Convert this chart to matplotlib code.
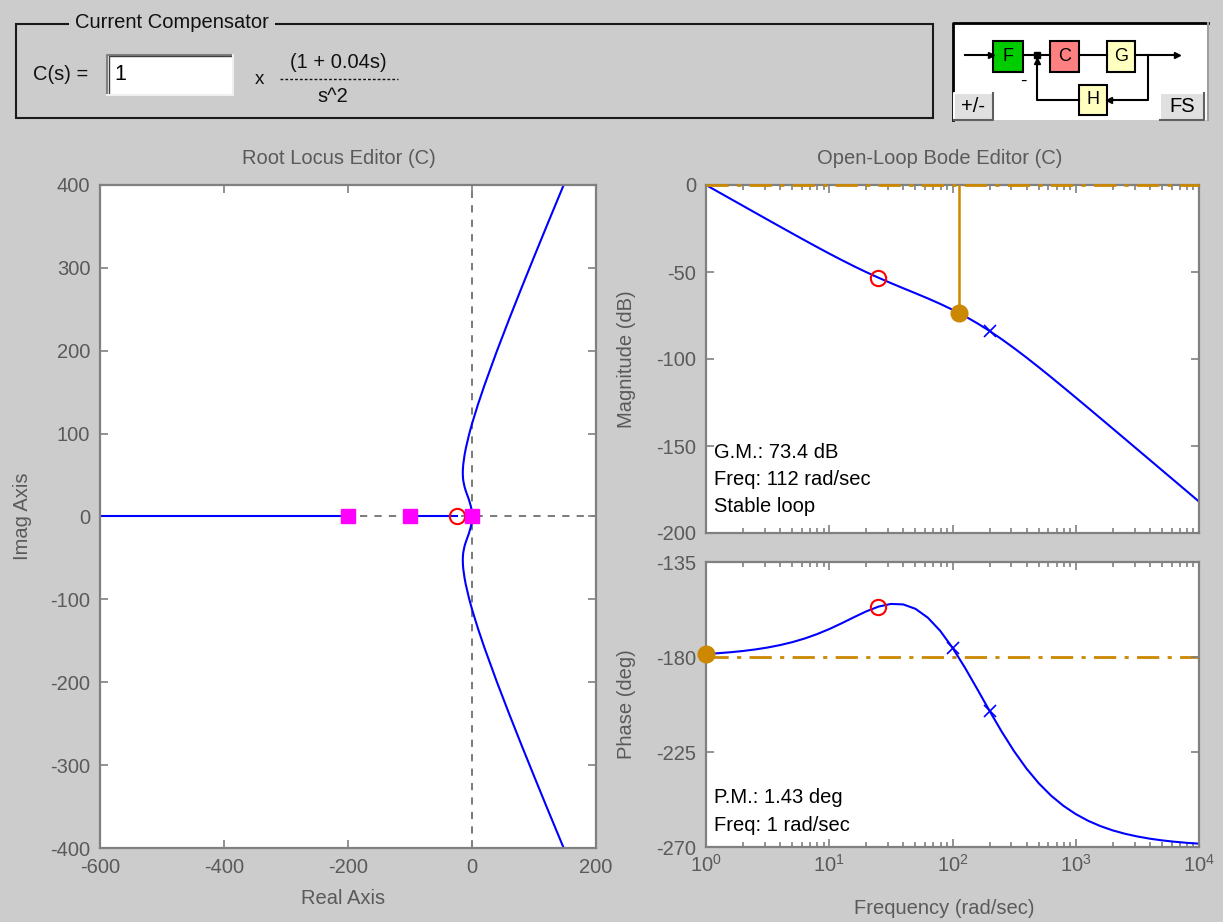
import matplotlib
matplotlib.use('Agg')
import matplotlib.pyplot as plt
from matplotlib.patches import Rectangle
from matplotlib.ticker import LogLocator, NullFormatter

plt.rcParams['font.family'] = ['Liberation Sans', 'DejaVu Sans']
plt.rcParams['mathtext.fontset'] = 'custom'
plt.rcParams['mathtext.rm'] = 'Liberation Sans'
plt.rcParams['mathtext.it'] = 'Liberation Sans'
plt.rcParams['mathtext.default'] = 'regular'
plt.rcParams['axes.unicode_minus'] = False

# ---------------- data ----------------
# Root locus (upper complex branch, mirrored for the lower one)
rl_branch_x = [0, -0.2, -1, -2, -5, -10, -12, -14, -14.5, -14.8, -14.83, -14.8, -14.5, -14,
               -12, -10, -5, -2, 0, 5, 10, 20, 40, 60, 80, 100, 120, 140, 150]
rl_branch_y = [0, 4.0, 8.97, 12.72, 20.4, 30.84, 35.70, 43.0, 46.34, 50.42, 52.5, 54.73, 59.35, 63.6,
               74.25, 82.15, 98.1, 106.5, 111.8, 124.06, 136.05, 158.18, 199.35, 238.32, 276.1,
               313.1, 349.7, 385.85, 403.8]
rl_real_seg_start = [-600, -100]
rl_real_seg_end = [-200, -25]
cl_poles_re = [-200, -100, 0]
comp_zero_re = [-25]

# Open-loop Bode
freq = [1, 1.259, 1.585, 1.995, 2.512, 3.162, 3.981, 5.012, 6.310, 7.943,
        10, 12.59, 15.85, 19.95, 25.12, 31.62, 39.81, 50.12, 63.10, 79.43,
        100, 125.9, 158.5, 199.5, 251.2, 316.2, 398.1, 501.2, 631.0, 794.3,
        1000, 1259, 1585, 1995, 2512, 3162, 3981, 5012, 6310, 7943, 10000]
mag_db = [0.01, -3.99, -7.98, -11.97, -15.96, -19.94, -23.90, -27.84, -31.75, -35.62,
          -39.41, -43.10, -46.67, -50.07, -53.30, -56.37, -59.32, -62.23, -65.19, -68.31,
          -71.68, -75.36, -79.42, -83.86, -88.67, -93.79, -99.16, -104.74, -110.45, -116.27,
          -122.15, -128.07, -134.02, -139.99, -145.97, -151.96, -157.95, -163.95, -169.94, -175.94,
          -181.94]
phase_deg = [-178.57, -178.20, -177.73, -177.15, -176.42, -175.51, -174.37, -172.97, -171.25, -169.19,
             -166.77, -164.05, -161.17, -158.39, -156.12, -154.86, -155.09, -157.20, -161.38, -167.59,
             -175.60, -184.96, -195.11, -205.45, -215.44, -224.66, -232.82, -239.82, -245.68, -250.49,
             -254.41, -257.57, -260.10, -262.13, -263.74, -265.02, -266.05, -266.86, -267.50, -268.02,
             -268.42]
zero_freq, zero_mag, zero_phase = [25], [-53.3], [-156.1]
mag_pole_freq, mag_pole_mag = [200], [-83.9]
ph_pole_freq, ph_pole_phase = [100, 200], [-175.6, -205.4]
gm_freq, gm_mag = 112, -73.4
pm_freq, pm_phase = 1, -178.57

rl_xticks = [-600, -400, -200, 0, 200]
rl_yticks = [-400, -300, -200, -100, 0, 100, 200, 300, 400]
mag_yticks = [-200, -150, -100, -50, 0]
ph_yticks = [-270, -225, -180, -135]

# ---------------- style ----------------
W, H = 1223, 922
BG = '#cccccc'
AXC = '#808080'
TXC = '#5a5a5a'
BLUE = '#0000ff'
ORANGE = '#cc8800'
FS = 14.5

fig = plt.figure(figsize=(W / 100, H / 100), dpi=100, facecolor=BG)


def rect(l, t, r, b):
    return [l / W, 1 - b / H, (r - l) / W, (b - t) / H]


def style(ax):
    ax.set_facecolor('white')
    for s in ax.spines.values():
        s.set_color(AXC)
        s.set_linewidth(1.6)
    ax.tick_params(which='both', direction='in', top=True, right=True, colors=AXC,
                   labelcolor=TXC, labelsize=FS, width=1.2, pad=7)
    ax.tick_params(which='major', length=6)
    ax.tick_params(which='minor', length=3.5)


def ftext(x, y, s, **kw):
    kw.setdefault('fontsize', FS)
    kw.setdefault('color', TXC)
    kw.setdefault('ha', 'center')
    kw.setdefault('va', 'center')
    fig.text(x / W, 1 - y / H, s, **kw)


# ---------------- root locus ----------------
ax = fig.add_axes(rect(100, 185, 596, 848))
style(ax)
ax.set_xlim(-600, 200)
ax.set_ylim(-400, 400)
ax.set_xticks(rl_xticks)
ax.set_yticks(rl_yticks)
ax.axhline(0, color='#707070', lw=1.3, ls=(0, (4, 4)), zorder=1)
ax.axvline(0, color='#707070', lw=1.3, ls=(0, (4, 4)), zorder=1)
for a, b in zip(rl_real_seg_start, rl_real_seg_end):
    ax.plot([a, b], [0, 0], color=BLUE, lw=1.5, zorder=2)
ax.plot(rl_branch_x, rl_branch_y, color=BLUE, lw=1.5, zorder=2)
ax.plot(rl_branch_x, [-v for v in rl_branch_y], color=BLUE, lw=1.5, zorder=2)
ax.plot(comp_zero_re, [0] * len(comp_zero_re), 'o', ms=11, mfc='none', mec='#ff0000', mew=1.5, zorder=3)
ax.plot(cl_poles_re, [0] * len(cl_poles_re), 's', ms=9.5, mfc='#ff00ff', mec='#ff00ff', zorder=4)

# ---------------- Bode magnitude ----------------
axm = fig.add_axes(rect(706, 185, 1199, 533))
style(axm)
axm.set_xscale('log')
axm.set_xlim(1, 1e4)
axm.set_ylim(-200, 0)
axm.set_yticks(mag_yticks)
axm.xaxis.set_minor_locator(LogLocator(subs=range(2, 10)))
axm.xaxis.set_minor_formatter(NullFormatter())
axm.tick_params(labelbottom=False)
axm.axhline(0, color=ORANGE, lw=2, ls=(0, (8, 3, 1.5, 3)), zorder=5, clip_on=False)
axm.plot(freq, mag_db, color=BLUE, lw=1.5, zorder=2)
axm.plot([gm_freq, gm_freq], [0, gm_mag], color=ORANGE, lw=1.8, zorder=3)
axm.plot(mag_pole_freq, mag_pole_mag, 'x', ms=9, mec=BLUE, mew=1.2, zorder=3)
axm.plot(zero_freq, zero_mag, 'o', ms=11, mfc='none', mec='#ff0000', mew=1.5, zorder=4)
axm.plot([gm_freq], [gm_mag], 'o', ms=12, mfc=ORANGE, mec=ORANGE, zorder=5)
gm_lines = ['G.M.: 73.4 dB', 'Freq: 112 rad/sec', 'Stable loop']
for i, s in enumerate(gm_lines):
    ftext(714, 452 + 27.5 * i, s, ha='left', color='black')

# ---------------- Bode phase ----------------
axp = fig.add_axes(rect(706, 562, 1199, 847))
style(axp)
axp.set_xscale('log')
axp.set_xlim(1, 1e4)
axp.set_ylim(-270, -135)
axp.set_yticks(ph_yticks)
axp.xaxis.set_minor_locator(LogLocator(subs=range(2, 10)))
axp.xaxis.set_minor_formatter(NullFormatter())
axp.tick_params(axis='x', pad=5)
axp.axhline(-180, color=ORANGE, lw=2, ls=(0, (8, 3, 1.5, 3)), zorder=1)
axp.plot(freq, phase_deg, color=BLUE, lw=1.5, zorder=2)
axp.plot(ph_pole_freq, ph_pole_phase, 'x', ms=9, mec=BLUE, mew=1.2, zorder=3)
axp.plot(zero_freq, zero_phase, 'o', ms=11, mfc='none', mec='#ff0000', mew=1.5, zorder=4)
axp.plot([pm_freq], [pm_phase], 'o', ms=12, mfc=ORANGE, mec=ORANGE, zorder=5, clip_on=False)
pm_lines = ['P.M.: 1.43 deg', 'Freq: 1 rad/sec']
for i, s in enumerate(pm_lines):
    ftext(714, 797 + 28 * i, s, ha='left', color='black')

# ---------------- titles / labels ----------------
ftext(339, 158, 'Root Locus Editor (C)')
ftext(940, 158, 'Open-Loop Bode Editor (C)')
ftext(22, 516, 'Imag Axis', rotation=90)
ftext(343, 898, 'Real Axis')
ftext(627, 359, 'Magnitude (dB)', rotation=90)
ftext(627, 704, 'Phase (deg)', rotation=90)
ftext(944, 908, 'Frequency (rad/sec)')

# ---------------- top panel (overlay in pixel coords) ----------------
ov = fig.add_axes([0, 0, 1, 1], zorder=10)
ov.set_xlim(0, W)
ov.set_ylim(H, 0)
ov.axis('off')
ov.patch.set_alpha(0)

ov.add_patch(Rectangle((16, 24), 917, 94, fill=False, ec='#1a1a1a', lw=1.5))
ov.text(172, 23, 'Current Compensator', ha='center', va='center', fontsize=FS, color='#111111',
        bbox=dict(fc=BG, ec='none', pad=4))
ov.text(61, 75, 'C(s) =', ha='center', va='center', fontsize=FS, color='#111111')
ov.add_patch(Rectangle((107, 55), 126, 40, fc='white', ec='none'))
ov.plot([107, 107, 233], [95, 55, 55], color='#808080', lw=1.5)
ov.plot([108.5, 108.5, 232], [94, 56.5, 56.5], color='#404040', lw=1)
ov.plot([107, 233, 233], [95, 95, 55], color='#f0f0f0', lw=1.5)
ov.text(114, 75, '1', ha='left', va='center', fontsize=FS + 1, color='black')
ov.text(259, 79, 'x', ha='center', va='center', fontsize=FS - 1, color='#111111')
ov.text(338, 62, '(1 + 0.04s)', ha='center', va='center', fontsize=FS, color='#111111')
ov.plot([280, 398], [79, 79], color='#111111', lw=1, ls=(0, (2, 1.5)))
ov.text(333, 97, 's^2', ha='center', va='center', fontsize=FS, color='#111111')

# block diagram
ov.add_patch(Rectangle((953, 23), 255, 97, fc='white', ec='none'))
ov.plot([953, 953, 1208], [120, 23, 23], color='black', lw=2)
ov.plot([1208, 1208], [23, 120], color='#a0a0a0', lw=1.5)
LW = 1.5
ov.plot([965, 993], [55, 55], color='black', lw=LW)
ov.plot([991], [55], '>', color='black', ms=5)
ov.plot([1023, 1050], [55, 55], color='black', lw=LW)
ov.plot([1037], [55], 's', color='black', ms=5)
ov.plot([1079, 1107], [55, 55], color='black', lw=LW)
ov.plot([1135, 1177], [55, 55], color='black', lw=LW)
ov.plot([1177], [55], '>', color='black', ms=5)
ov.plot([1148, 1148, 1107], [55, 100, 100], color='black', lw=LW)
ov.plot([1109], [100], '<', color='black', ms=5)
ov.plot([1079, 1037, 1037], [100, 100, 58], color='black', lw=LW)
ov.plot([1037], [61], '^', color='black', ms=5)
ov.text(1023, 81, '-', ha='center', va='center', fontsize=14, color='black')
blocks = [('F', 993, 41, 30, 31, '#00cc00'), ('C', 1050, 41, 29, 31, '#ff8080'),
          ('G', 1107, 41, 28, 31, '#ffffc0'), ('H', 1079, 85, 28, 30, '#ffffc0')]
for lab, x0, y0, w, h, c in blocks:
    ov.add_patch(Rectangle((x0, y0), w, h, fc=c, ec='black', lw=1.5))
    ov.text(x0 + w / 2, y0 + h / 2, lab, ha='center', va='center', fontsize=13, color='black')
for lab, x0, x1 in [('+/-', 954, 993), ('FS', 1160, 1204)]:
    ov.add_patch(Rectangle((x0, 93), x1 - x0, 27, fc='#e0e0e0', ec='none'))
    ov.plot([x0, x0, x1], [120, 93, 93], color='white', lw=1.5)
    ov.plot([x0, x1, x1], [120, 120, 93], color='#606060', lw=1.5)
    ov.text((x0 + x1) / 2, 107, lab, ha='center', va='center', fontsize=FS, color='black')

fig.savefig('out.png', dpi=100, facecolor=BG)
